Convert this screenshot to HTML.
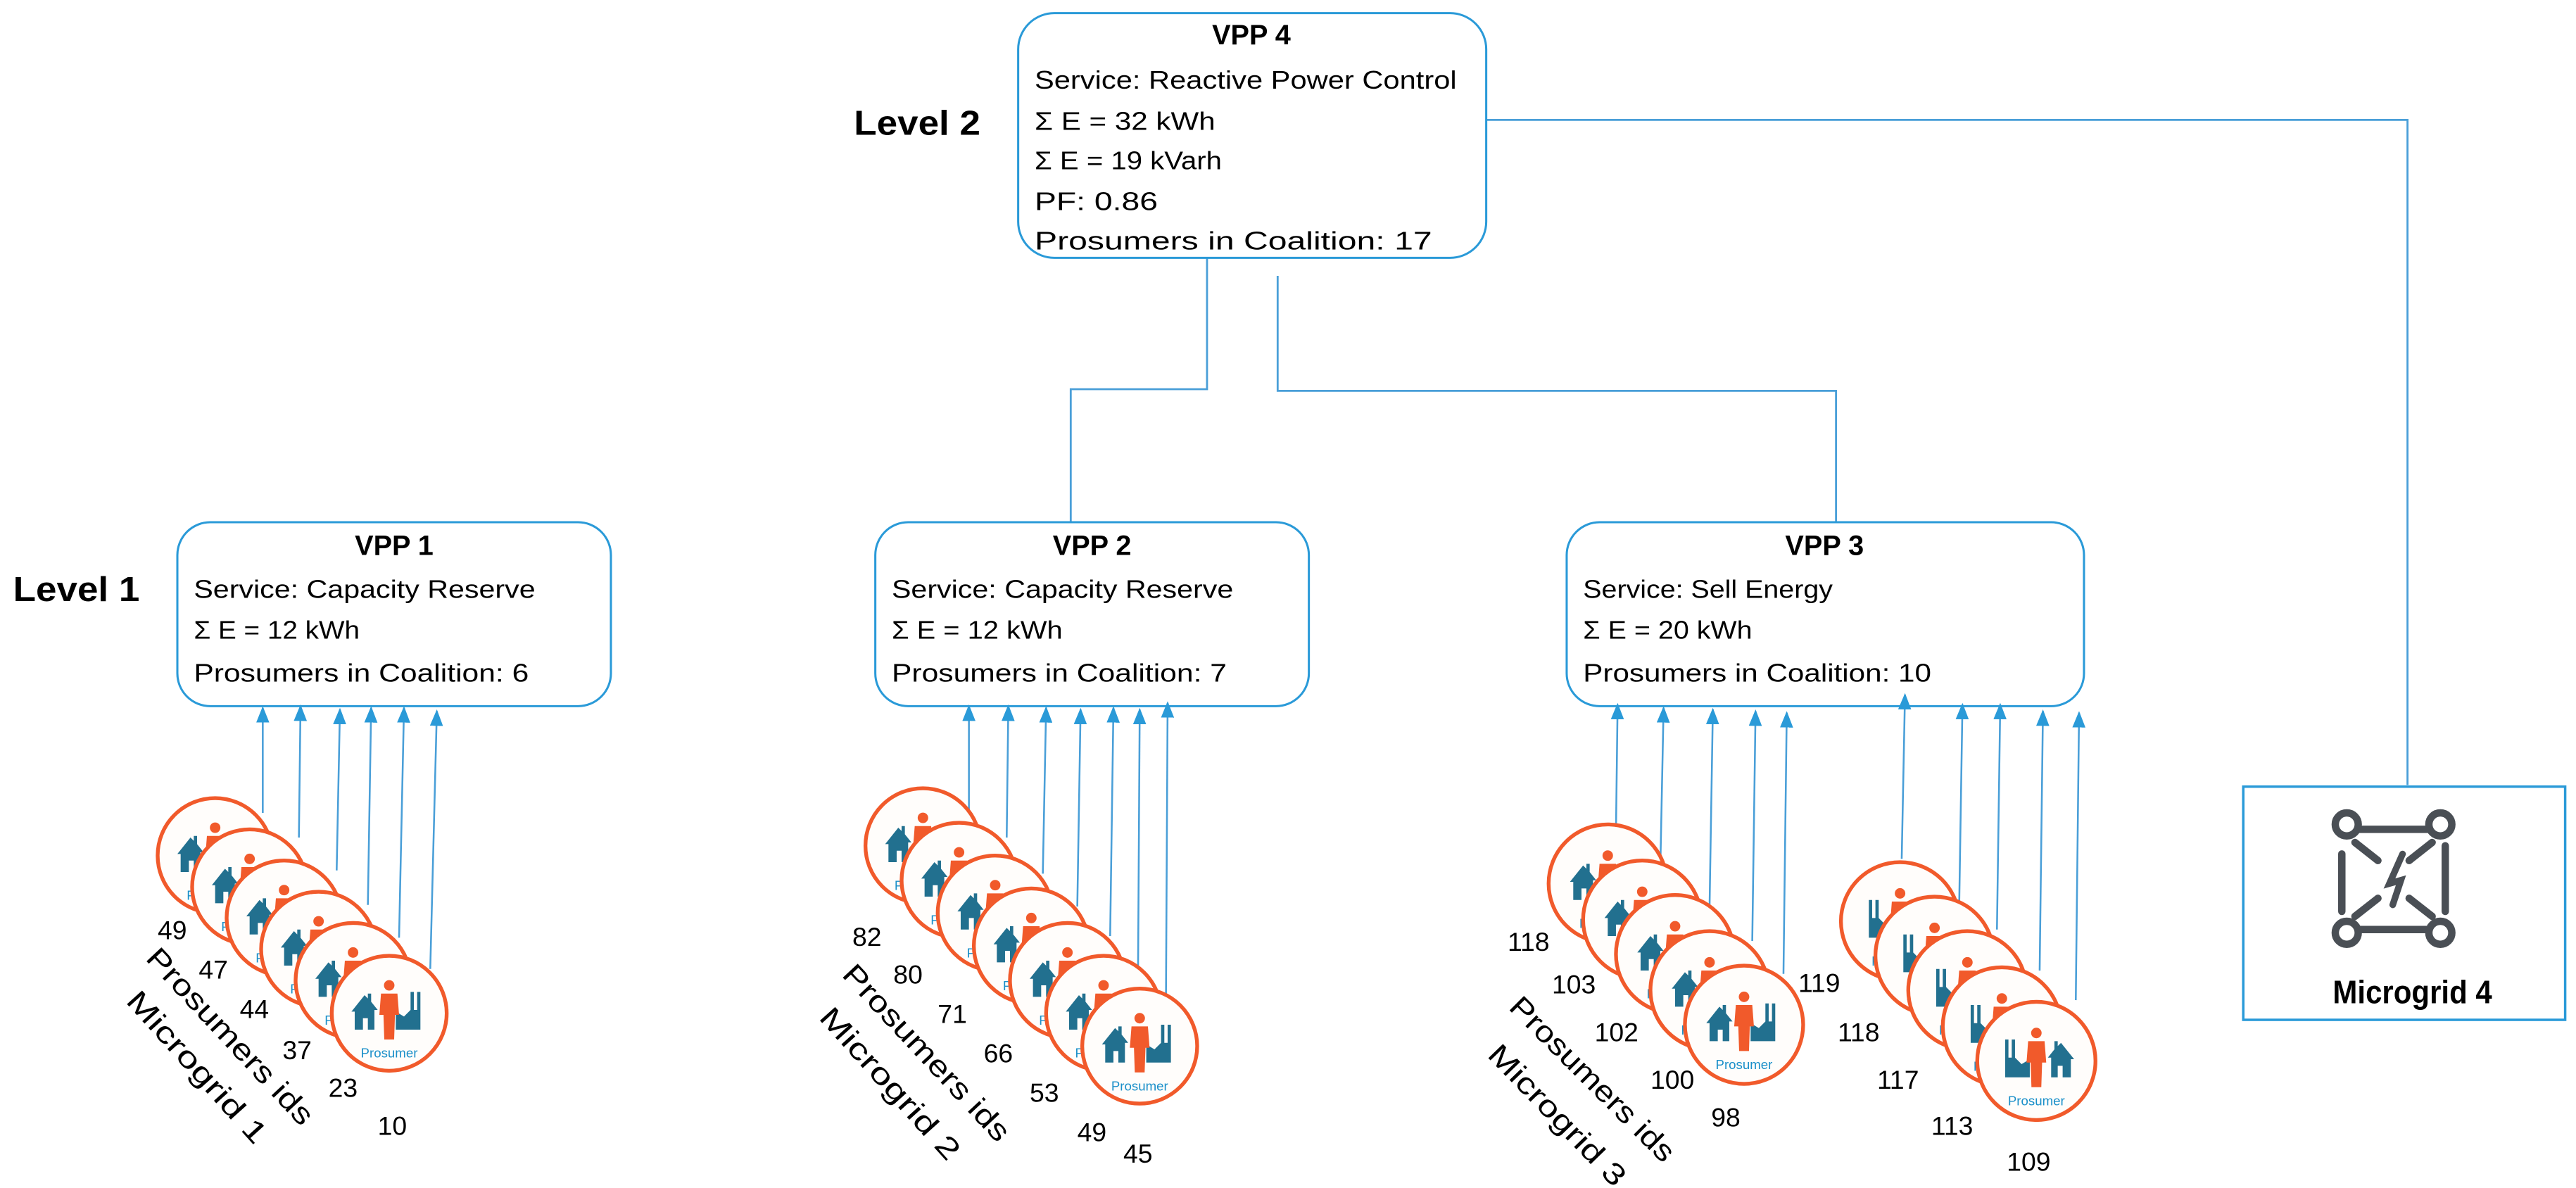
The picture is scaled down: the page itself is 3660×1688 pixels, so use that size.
<!DOCTYPE html>
<html><head><meta charset="utf-8"><style>
html,body{margin:0;padding:0;background:#fff;}
svg{display:block;}
text{font-family:"Liberation Sans",sans-serif;}
</style></head><body>
<svg width="3660" height="1688" viewBox="0 0 1568.6 723.4" preserveAspectRatio="none" xmlns="http://www.w3.org/2000/svg">
<defs>
<marker id="ah" markerWidth="10" markerHeight="8" refX="9" refY="4" orient="auto" markerUnits="userSpaceOnUse">
<path d="M0,0 L10,4 L0,8 Z" fill="#2a9ad8"/>
</marker>
<symbol id="pic" viewBox="-35 -35 70 70" overflow="visible">
<path d="M-23,-1 L-15,-11 L-13,-9 L-13,-12 L-11,-12 L-11,-7 L-7,-2 L-9,-2 L-9,10 L-13,10 L-13,3 L-16,3 L-16,10 L-21,10 L-21,-1 Z" fill="#22708f"/>
<path d="M4,10 L4,-1 L9,2 L13,-2 L13,-13 L15,-13 L15,-2 L17,-2 L17,-13 L19,-13 L19,10 Z" fill="#22708f"/>
<circle cx="0" cy="-17" r="3.2" fill="#f15a2b"/>
<path d="M-5,-12 L5,-12 L6,1 L3.5,1 L3,16 L-3,16 L-3.5,1 L-6,1 Z" fill="#f15a2b"/>
</symbol>
</defs>

<g fill="none" stroke="#4a9fd8" stroke-width="1.2">
<polyline points="735,157 735,237 652,237 652,318"/>
<polyline points="778,168 778,238 1118,238 1118,318"/>
<polyline points="905,73 1466,73 1466,478"/>
</g>

<text x="520" y="82" font-size="21" font-weight="bold" textLength="77" lengthAdjust="spacingAndGlyphs">Level 2</text>
<text x="8" y="366" font-size="21" font-weight="bold" textLength="77" lengthAdjust="spacingAndGlyphs">Level 1</text>

<rect x="620" y="8" width="285" height="149" rx="22" fill="#fff" stroke="#2a9ad8" stroke-width="1.3"/>
<text x="762" y="27" font-size="17" font-weight="bold" text-anchor="middle">VPP 4</text>
<g font-size="15.5">
<text x="630" y="54" textLength="257" lengthAdjust="spacingAndGlyphs">Service:  Reactive Power Control</text>
<text x="630" y="79" textLength="110" lengthAdjust="spacingAndGlyphs">Σ E =   32 kWh</text>
<text x="630" y="103" textLength="114" lengthAdjust="spacingAndGlyphs">Σ E =   19 kVarh</text>
<text x="630" y="128" textLength="75" lengthAdjust="spacingAndGlyphs">PF: 0.86</text>
<text x="630" y="152" textLength="242" lengthAdjust="spacingAndGlyphs">Prosumers  in Coalition: 17</text>
</g>

<rect x="108" y="318" width="264" height="112" rx="20" fill="#fff" stroke="#2a9ad8" stroke-width="1.3"/>
<text x="240" y="338" font-size="17" font-weight="bold" text-anchor="middle">VPP 1</text>
<g font-size="15.5">
<text x="118" y="364" textLength="208" lengthAdjust="spacingAndGlyphs">Service:  Capacity Reserve</text>
<text x="118" y="389" textLength="101" lengthAdjust="spacingAndGlyphs">Σ E =  12 kWh</text>
<text x="118" y="415" textLength="204" lengthAdjust="spacingAndGlyphs">Prosumers  in Coalition: 6</text>
</g>

<rect x="533" y="318" width="264" height="112" rx="20" fill="#fff" stroke="#2a9ad8" stroke-width="1.3"/>
<text x="665" y="338" font-size="17" font-weight="bold" text-anchor="middle">VPP 2</text>
<g font-size="15.5">
<text x="543" y="364" textLength="208" lengthAdjust="spacingAndGlyphs">Service:  Capacity Reserve</text>
<text x="543" y="389" textLength="104" lengthAdjust="spacingAndGlyphs">Σ E = 12 kWh</text>
<text x="543" y="415" textLength="204" lengthAdjust="spacingAndGlyphs">Prosumers  in Coalition: 7</text>
</g>

<rect x="954" y="318" width="315" height="112" rx="20" fill="#fff" stroke="#2a9ad8" stroke-width="1.3"/>
<text x="1111" y="338" font-size="17" font-weight="bold" text-anchor="middle">VPP 3</text>
<g font-size="15.5">
<text x="964" y="364" textLength="152" lengthAdjust="spacingAndGlyphs">Service:  Sell Energy</text>
<text x="964" y="389" textLength="103" lengthAdjust="spacingAndGlyphs">Σ E =  20 kWh</text>
<text x="964" y="415" textLength="212" lengthAdjust="spacingAndGlyphs">Prosumers  in Coalition: 10</text>
</g>

<rect x="1366" y="479" width="196" height="142" fill="#fff" stroke="#2a9ad8" stroke-width="1.5"/>
<g stroke="#4a4f55" stroke-width="4.5" fill="none" stroke-linecap="round">
<line x1="1436" y1="505" x2="1479" y2="505"/>
<line x1="1436" y1="566" x2="1479" y2="566"/>
<line x1="1426" y1="520" x2="1426" y2="555"/>
<line x1="1489" y1="515" x2="1489" y2="555"/>
<line x1="1434" y1="513" x2="1448" y2="524"/>
<line x1="1481" y1="513" x2="1467" y2="524"/>
<line x1="1434" y1="558" x2="1448" y2="547"/>
<line x1="1481" y1="558" x2="1467" y2="547"/>
<path d="M1463,520 L1455,538 L1462,536 L1457,551" stroke-width="4"/>
<circle cx="1429" cy="502" r="7"/>
<circle cx="1486" cy="502" r="7"/>
<circle cx="1429" cy="568" r="7"/>
<circle cx="1486" cy="568" r="7"/>
</g>
<text x="1469" y="611" font-size="20" font-weight="bold" text-anchor="middle" textLength="97" lengthAdjust="spacingAndGlyphs">Microgrid  4</text>

<g stroke="#4a9fd8" stroke-width="1.1" marker-end="url(#ah)">
<line x1="160" y1="495" x2="160" y2="431"/>
<line x1="182" y1="510" x2="183" y2="430"/>
<line x1="205" y1="530" x2="207" y2="432"/>
<line x1="224" y1="551" x2="226" y2="431"/>
<line x1="243" y1="571" x2="246" y2="431"/>
<line x1="262" y1="590" x2="266" y2="433"/>

<line x1="590" y1="495" x2="590" y2="430"/>
<line x1="613" y1="510" x2="614" y2="430"/>
<line x1="635" y1="532" x2="637" y2="431"/>
<line x1="656" y1="552" x2="658" y2="432"/>
<line x1="676" y1="570" x2="678" y2="431"/>
<line x1="693" y1="590" x2="694" y2="432"/>
<line x1="710" y1="606" x2="711" y2="428"/>

<line x1="984" y1="507" x2="985" y2="429"/>
<line x1="1011" y1="529" x2="1013" y2="431"/>
<line x1="1041" y1="552" x2="1043" y2="432"/>
<line x1="1067" y1="573" x2="1069" y2="433"/>
<line x1="1086" y1="593" x2="1088" y2="434"/>

<line x1="1158" y1="523" x2="1160" y2="423"/>
<line x1="1193" y1="552" x2="1195" y2="429"/>
<line x1="1216" y1="566" x2="1218" y2="429"/>
<line x1="1242" y1="591" x2="1244" y2="433"/>
<line x1="1264" y1="609" x2="1266" y2="434"/>
</g>

<g stroke="#f15a2b" stroke-width="2.3" fill="#fffdfb">
<g transform="translate(131,521)"><circle r="35"/><use href="#pic" x="-35" y="-35" width="70" height="70" stroke="none"/><text x="0" y="27" font-size="8" fill="#1a8fc9" stroke="none" text-anchor="middle">Prosumer</text></g>
<g transform="translate(152,540)"><circle r="35"/><use href="#pic" x="-35" y="-35" width="70" height="70" stroke="none"/><text x="0" y="27" font-size="8" fill="#1a8fc9" stroke="none" text-anchor="middle">Prosumer</text></g>
<g transform="translate(173,559)"><circle r="35"/><use href="#pic" x="-35" y="-35" width="70" height="70" stroke="none"/><text x="0" y="27" font-size="8" fill="#1a8fc9" stroke="none" text-anchor="middle">Prosumer</text></g>
<g transform="translate(194,578)"><circle r="35"/><use href="#pic" x="-35" y="-35" width="70" height="70" stroke="none"/><text x="0" y="27" font-size="8" fill="#1a8fc9" stroke="none" text-anchor="middle">Prosumer</text></g>
<g transform="translate(215,597)"><circle r="35"/><use href="#pic" x="-35" y="-35" width="70" height="70" stroke="none"/><text x="0" y="27" font-size="8" fill="#1a8fc9" stroke="none" text-anchor="middle">Prosumer</text></g>
<g transform="translate(237,617)"><circle r="35"/><use href="#pic" x="-35" y="-35" width="70" height="70" stroke="none"/><text x="0" y="27" font-size="8" fill="#1a8fc9" stroke="none" text-anchor="middle">Prosumer</text></g>

<g transform="translate(562,515)"><circle r="35"/><use href="#pic" x="-35" y="-35" width="70" height="70" stroke="none"/><text x="0" y="27" font-size="8" fill="#1a8fc9" stroke="none" text-anchor="middle">Prosumer</text></g>
<g transform="translate(584,536)"><circle r="35"/><use href="#pic" x="-35" y="-35" width="70" height="70" stroke="none"/><text x="0" y="27" font-size="8" fill="#1a8fc9" stroke="none" text-anchor="middle">Prosumer</text></g>
<g transform="translate(606,556)"><circle r="35"/><use href="#pic" x="-35" y="-35" width="70" height="70" stroke="none"/><text x="0" y="27" font-size="8" fill="#1a8fc9" stroke="none" text-anchor="middle">Prosumer</text></g>
<g transform="translate(628,576)"><circle r="35"/><use href="#pic" x="-35" y="-35" width="70" height="70" stroke="none"/><text x="0" y="27" font-size="8" fill="#1a8fc9" stroke="none" text-anchor="middle">Prosumer</text></g>
<g transform="translate(650,597)"><circle r="35"/><use href="#pic" x="-35" y="-35" width="70" height="70" stroke="none"/><text x="0" y="27" font-size="8" fill="#1a8fc9" stroke="none" text-anchor="middle">Prosumer</text></g>
<g transform="translate(672,617)"><circle r="35"/><use href="#pic" x="-35" y="-35" width="70" height="70" stroke="none"/><text x="0" y="27" font-size="8" fill="#1a8fc9" stroke="none" text-anchor="middle">Prosumer</text></g>
<g transform="translate(694,637)"><circle r="35"/><use href="#pic" x="-35" y="-35" width="70" height="70" stroke="none"/><text x="0" y="27" font-size="8" fill="#1a8fc9" stroke="none" text-anchor="middle">Prosumer</text></g>

<g transform="translate(979,538)"><circle r="36"/><use href="#pic" x="-35" y="-35" width="70" height="70" stroke="none"/><text x="0" y="27" font-size="8" fill="#1a8fc9" stroke="none" text-anchor="middle">Prosumer</text></g>
<g transform="translate(1000,560)"><circle r="36"/><use href="#pic" x="-35" y="-35" width="70" height="70" stroke="none"/><text x="0" y="27" font-size="8" fill="#1a8fc9" stroke="none" text-anchor="middle">Prosumer</text></g>
<g transform="translate(1020,581)"><circle r="36"/><use href="#pic" x="-35" y="-35" width="70" height="70" stroke="none"/><text x="0" y="27" font-size="8" fill="#1a8fc9" stroke="none" text-anchor="middle">Prosumer</text></g>
<g transform="translate(1041,603)"><circle r="36"/><use href="#pic" x="-35" y="-35" width="70" height="70" stroke="none"/><text x="0" y="27" font-size="8" fill="#1a8fc9" stroke="none" text-anchor="middle">Prosumer</text></g>
<g transform="translate(1062,624)"><circle r="36"/><use href="#pic" x="-35" y="-35" width="70" height="70" stroke="none"/><text x="0" y="27" font-size="8" fill="#1a8fc9" stroke="none" text-anchor="middle">Prosumer</text></g>

<g transform="translate(1157,561)"><circle r="36"/><use href="#pic" x="-35" y="-35" width="70" height="70" stroke="none" transform="scale(-1,1)"/><text x="0" y="27" font-size="8" fill="#1a8fc9" stroke="none" text-anchor="middle">Prosumer</text></g>
<g transform="translate(1178,582)"><circle r="36"/><use href="#pic" x="-35" y="-35" width="70" height="70" stroke="none" transform="scale(-1,1)"/><text x="0" y="27" font-size="8" fill="#1a8fc9" stroke="none" text-anchor="middle">Prosumer</text></g>
<g transform="translate(1198,603)"><circle r="36"/><use href="#pic" x="-35" y="-35" width="70" height="70" stroke="none" transform="scale(-1,1)"/><text x="0" y="27" font-size="8" fill="#1a8fc9" stroke="none" text-anchor="middle">Prosumer</text></g>
<g transform="translate(1219,625)"><circle r="36"/><use href="#pic" x="-35" y="-35" width="70" height="70" stroke="none" transform="scale(-1,1)"/><text x="0" y="27" font-size="8" fill="#1a8fc9" stroke="none" text-anchor="middle">Prosumer</text></g>
<g transform="translate(1240,646)"><circle r="36"/><use href="#pic" x="-35" y="-35" width="70" height="70" stroke="none" transform="scale(-1,1)"/><text x="0" y="27" font-size="8" fill="#1a8fc9" stroke="none" text-anchor="middle">Prosumer</text></g>
</g>

<g font-size="16" fill="#000">
<text x="96" y="572">49</text>
<text x="121" y="596">47</text>
<text x="146" y="620">44</text>
<text x="172" y="645">37</text>
<text x="200" y="668">23</text>
<text x="230" y="691">10</text>

<text x="519" y="576">82</text>
<text x="544" y="599">80</text>
<text x="571" y="623">71</text>
<text x="599" y="647">66</text>
<text x="627" y="671">53</text>
<text x="656" y="695">49</text>
<text x="684" y="708">45</text>

<text x="918" y="579">118</text>
<text x="945" y="605">103</text>
<text x="971" y="634">102</text>
<text x="1005" y="663">100</text>
<text x="1042" y="686">98</text>

<text x="1095" y="604">119</text>
<text x="1119" y="634">118</text>
<text x="1143" y="663">117</text>
<text x="1176" y="691">113</text>
<text x="1222" y="713">109</text>
</g>

<g font-size="18" fill="#000">
<text transform="translate(88,584) rotate(47)" textLength="140" lengthAdjust="spacingAndGlyphs">Prosumers ids</text>
<text transform="translate(76,610) rotate(48)" textLength="118" lengthAdjust="spacingAndGlyphs">Microgrid 1</text>
<text transform="translate(512,594) rotate(47)" textLength="140" lengthAdjust="spacingAndGlyphs">Prosumers ids</text>
<text transform="translate(498,620) rotate(48)" textLength="118" lengthAdjust="spacingAndGlyphs">Microgrid 2</text>
<text transform="translate(918,614) rotate(45)" textLength="134" lengthAdjust="spacingAndGlyphs">Prosumers ids</text>
<text transform="translate(905,643) rotate(46)" textLength="112" lengthAdjust="spacingAndGlyphs">Microgrid 3</text>
</g>
</svg>
</body></html>
